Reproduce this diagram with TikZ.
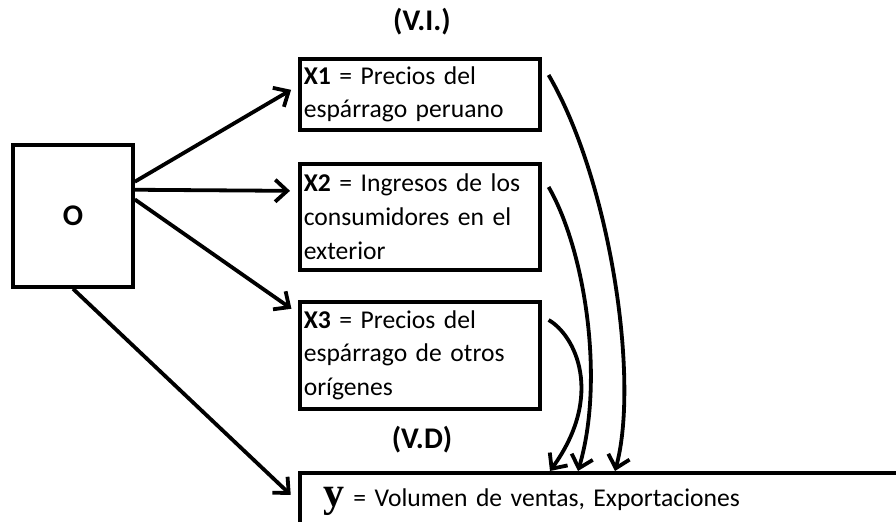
\documentclass[tikz,border=0pt]{standalone}
\usepackage{fontspec}
\setmainfont[WordSpace=0.75]{Carlito}
\newfontfamily\yfont{Liberation Serif}
\usetikzlibrary{calc,arrows.meta}

\begin{document}
\begin{tikzpicture}[x=0.5pt,y=-0.5pt,
    box/.style={draw,line width=1.8pt,anchor=north west,align=left,inner xsep=2pt,inner ysep=1pt,
      text width=116pt,font=\fontsize{12.8}{16.8}\selectfont},
    label/.style={font=\fontsize{15}{16}\selectfont\bfseries},
    flow/.style={line width=1.9pt,-{Straight Barb[length=6pt,width=11pt]}}]
  \useasboundingbox (0,0) rectangle (896,522);

  \node[draw,line width=1.8pt,minimum width=60pt,minimum height=71pt,label] (o) at (73,216) {O};

  \node[box,minimum height=35.5pt] (x1) at (298,57) {\textbf{X1} = Precios del\\esp\'arrago peruano};
  \node[box,minimum height=53pt] (x2) at (298,162) {\textbf{X2} = Ingresos de los\\consumidores en el\\exterior};
  \node[box,minimum height=53.5pt] (x3) at (298,300) {\textbf{X3} = Precios del\\esp\'arrago de otros\\or\'igenes};
  \node[box,text width=285pt,inner xsep=12pt,minimum height=29pt] (y) at (298,471)
    {{\yfont\bfseries\fontsize{21}{21}\selectfont y} = Volumen de ventas, Exportaciones};

  \node[label] (vi) at (422,22) {(V.I.)};
  \node[label] (vd) at (422,440) {(V.D)};

  % from O to the variables
  \draw[flow,shorten >=4pt] (o.29) -- (x1.176);
  \draw[flow,shorten >=4pt] (o.23) -- (x2.168);
  \draw[flow,shorten >=4pt] (o.15) -- (x3.161);
  \draw[flow,shorten >=5pt] (o.south) -- (y.west);

  % into y
  \coordinate (t1) at ($(y.north west)+(317,0)$);
  \coordinate (t2) at ($(y.north west)+(280,0)$);
  \coordinate (t3) at ($(y.north west)+(252,0)$);
  \draw[flow] ($(x1.north east)+(7,18)$) .. controls (610,180) and (640,380) .. (t1);
  \draw[flow] ($(x2.north east)+(7,25)$) .. controls (585,250) and (605,380) .. (t2);
  \draw[flow] ($(x3.north east)+(7,20)$) .. controls (575,335) and (605,395) .. (t3);
\end{tikzpicture}
\end{document}
